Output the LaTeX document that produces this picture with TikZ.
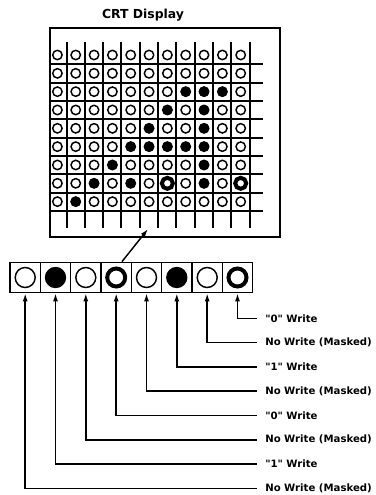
\documentclass[tikz,border=0pt]{standalone}
\usepackage{fontspec}
\setmainfont{DejaVu Sans}
\usetikzlibrary{arrows.meta}

\tikzset{
  regcell/.style={draw, line width=1.1pt, minimum size=22.75pt, inner sep=0pt},
  bitopen/.style={circle, draw, line width=1.1pt, minimum size=15pt, inner sep=0pt},
  bitset/.style={circle, fill, minimum size=16pt, inner sep=0pt},
  bitclear/.style={circle, draw, line width=3pt, minimum size=13.5pt, inner sep=0pt},
  crtbox/.style={draw, line width=1.1pt, minimum width=172.5pt, minimum height=156.75pt, inner sep=0pt},
  writelabel/.style={anchor=west, inner xsep=6pt, font=\fontsize{7.6pt}{9pt}\selectfont\bfseries},
  feed/.style={line width=1.1pt, -{Latex[length=6pt,width=3.8pt]}},
  raster/.style={line width=1.5pt},
  pixoff/.style={line width=1.1pt},
}

\begin{document}
\begin{tikzpicture}[x=0.75pt,y=0.75pt,yscale=-1,xscale=1]
\useasboundingbox (0,0) rectangle (375,495);

%Title
\node[font=\fontsize{9.3pt}{11pt}\selectfont\bfseries] (title) at (143,15) {CRT Display};
%Shape: Rectangle
\node[crtbox] (crt) at (165,132.5) {};

%Raster lines
\foreach \m in {0,...,10}
  \draw[raster] ({66.5+18.33*\m},42) -- ({66.5+18.33*\m},228);
\foreach \k in {0,...,8}
  \draw[raster] (50,{64.2+18.33*\k}) -- (263,{64.2+18.33*\k});

%Pixels
\foreach \r in {1,...,9}
  \foreach \c in {1,...,11}
    \draw[pixoff] ({57.4+18.33*(\c-1)},{55+18.33*(\r-1)}) circle (4.7);
\foreach \c/\r in {8/3,9/3,10/3,7/4,9/4,6/5,9/5,5/6,6/6,7/6,8/6,9/6,4/7,9/7,3/8,5/8,9/8,2/9}
  \fill ({57.4+18.33*(\c-1)},{55+18.33*(\r-1)}) circle (5.1);
\foreach \c/\r in {7/8,11/8}
  \draw[line width=3pt, fill=white] ({57.4+18.33*(\c-1)},{55+18.33*(\r-1)}) circle (5.5);

%Register
\node[regcell] (r1) at (25.2,277.5) {};
\node[regcell] (r2) at (55.5,277.5) {};
\node[regcell] (r3) at (85.8,277.5) {};
\node[regcell] (r4) at (116.2,277.5) {};
\node[regcell] (r5) at (146.5,277.5) {};
\node[regcell] (r6) at (176.8,277.5) {};
\node[regcell] (r7) at (207.2,277.5) {};
\node[regcell] (r8) at (237.5,277.5) {};

\node[bitopen] (b1) at (r1) {};
\node[bitset] (b2) at (r2) {};
\node[bitopen] (b3) at (r3) {};
\node[bitclear] (b4) at (r4) {};
\node[bitopen] (b5) at (r5) {};
\node[bitset] (b6) at (r6) {};
\node[bitopen] (b7) at (r7) {};
\node[bitclear] (b8) at (r8) {};

%Arrow to the display
\coordinate (scanrow) at (148,229);
\draw[feed] (r4.70) -- (scanrow);

%Labels
\node[writelabel] (w8) at (257,318.3) {\textquotedbl 0\textquotedbl{} Write};
\node[writelabel] (w7) at (257,342.6) {No Write (Masked)};
\node[writelabel] (w6) at (257,366.9) {\textquotedbl 1\textquotedbl{} Write};
\node[writelabel] (w5) at (257,391.2) {No Write (Masked)};
\node[writelabel] (w4) at (257,415.5) {\textquotedbl 0\textquotedbl{} Write};
\node[writelabel] (w3) at (257,439.8) {No Write (Masked)};
\node[writelabel] (w2) at (257,464.1) {\textquotedbl 1\textquotedbl{} Write};
\node[writelabel] (w1) at (257,488.4) {No Write (Masked)};

%Straight Lines
\foreach \i in {1,...,8}
  \draw[feed] (w\i.west) -| (r\i.south);
\end{tikzpicture}
\end{document}
